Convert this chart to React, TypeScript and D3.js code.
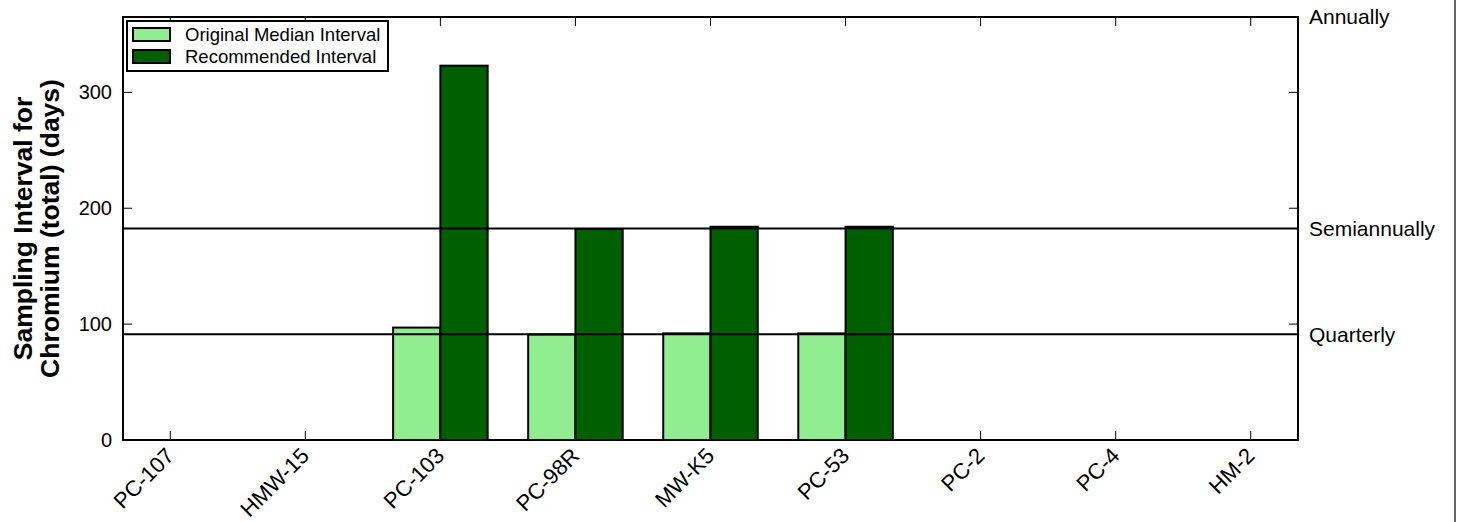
import * as d3 from "d3";

const wells = ["PC-107", "HMW-15", "PC-103", "PC-98R", "MW-K5", "PC-53", "PC-2", "PC-4", "HM-2"];
const originalMedian = [0, 0, 97, 91, 92, 92, 0, 0, 0];
const recommended = [0, 0, 323, 182, 184, 184, 0, 0, 0];
const yTicks = [0, 100, 200, 300];
const frequencyLevels = [
  { label: "Annually", days: 365 },
  { label: "Semiannually", days: 182.5 },
  { label: "Quarterly", days: 91.25 },
];
const seriesNames = ["Original Median Interval", "Recommended Interval"];
const seriesColors = ["#90ee90", "#006000"];

const W = 1457;
const H = 522;
const plot = { left: 123, right: 1298, top: 17, bottom: 440 };
const barWidth = 0.35;
const font = "Liberation Sans, Arial, sans-serif";

export default function App() {
  const x = d3.scaleLinear().domain([-0.35, wells.length - 1 + 0.35]).range([plot.left, plot.right]);
  const y = d3.scaleLinear().domain([0, 365]).range([plot.bottom, plot.top]);
  const tickLen = 9;

  return (
    <svg
      width={W}
      height={H}
      style={{ position: "absolute", left: 0, top: 0, background: "#fff", fontFamily: font }}
    >
      {/* bars */}
      {wells.map((w, i) => (
        <g key={w}>
          {originalMedian[i] > 0 && (
            <rect
              x={x(i - barWidth)}
              y={y(originalMedian[i])}
              width={x(i) - x(i - barWidth)}
              height={y(0) - y(originalMedian[i])}
              fill={seriesColors[0]}
              stroke="#000"
              strokeWidth={2}
            />
          )}
          {recommended[i] > 0 && (
            <rect
              x={x(i)}
              y={y(recommended[i])}
              width={x(i + barWidth) - x(i)}
              height={y(0) - y(recommended[i])}
              fill={seriesColors[1]}
              stroke="#000"
              strokeWidth={2}
            />
          )}
        </g>
      ))}

      {/* reference lines */}
      {frequencyLevels
        .filter((f) => f.days < 365)
        .map((f) => (
          <line key={f.label} x1={plot.left} x2={plot.right} y1={y(f.days)} y2={y(f.days)} stroke="#000" strokeWidth={2} />
        ))}

      {/* y ticks, left and right */}
      {yTicks.map((t) => (
        <g key={t}>
          <line x1={plot.left} x2={plot.left + tickLen} y1={y(t)} y2={y(t)} stroke="#000" strokeWidth={1} />
          <line x1={plot.right - tickLen} x2={plot.right} y1={y(t)} y2={y(t)} stroke="#000" strokeWidth={1} />
          <text x={plot.left - 11} y={y(t)} dy="0.35em" textAnchor="end" fontSize={20} fill="#000">
            {t}
          </text>
        </g>
      ))}

      {/* x ticks, bottom and top */}
      {wells.map((w, i) => (
        <g key={w}>
          <line x1={x(i)} x2={x(i)} y1={plot.bottom} y2={plot.bottom - tickLen} stroke="#000" strokeWidth={1} />
          <line x1={x(i)} x2={x(i)} y1={plot.top} y2={plot.top + tickLen} stroke="#000" strokeWidth={1} />
          <text
            transform={`translate(${x(i) - 6},${plot.bottom + 6}) rotate(-45)`}
            textAnchor="end"
            dy="0.72em"
            fontSize={22}
            fill="#000"
          >
            {w}
          </text>
        </g>
      ))}

      {/* frame */}
      <rect
        x={plot.left}
        y={plot.top}
        width={plot.right - plot.left}
        height={plot.bottom - plot.top}
        fill="none"
        stroke="#000"
        strokeWidth={2}
      />

      {/* right labels */}
      {frequencyLevels.map((f) => (
        <text key={f.label} x={plot.right + 11} y={y(f.days)} dy="0.35em" fontSize={21} fill="#000">
          {f.label}
        </text>
      ))}

      {/* y label */}
      <text
        transform={`translate(${32},${(plot.top + plot.bottom) / 2}) rotate(-90)`}
        textAnchor="middle"
        fontSize={26.5}
        fontWeight="bold"
        fill="#000"
      >
        <tspan x={0} dy="0">Sampling Interval for</tspan>
        <tspan x={0} dy="27">Chromium (total) (days)</tspan>
      </text>

      {/* legend */}
      <g>
        <rect x={127} y={21} width={261} height={50} fill="#fff" stroke="#000" strokeWidth={2} />
        {seriesNames.map((s, i) => (
          <g key={s} transform={`translate(0,${i * 22})`}>
            <rect x={133} y={28} width={37} height={13} fill={seriesColors[i]} stroke="#000" strokeWidth={2} />
            <text x={185} y={34.5} dy="0.35em" fontSize={18.5} fill="#000">
              {s}
            </text>
          </g>
        ))}
      </g>

      {/* page edge line */}
      <line x1={1455} x2={1455} y1={0} y2={H} stroke="#333" strokeWidth={1.5} />
    </svg>
  );
}
